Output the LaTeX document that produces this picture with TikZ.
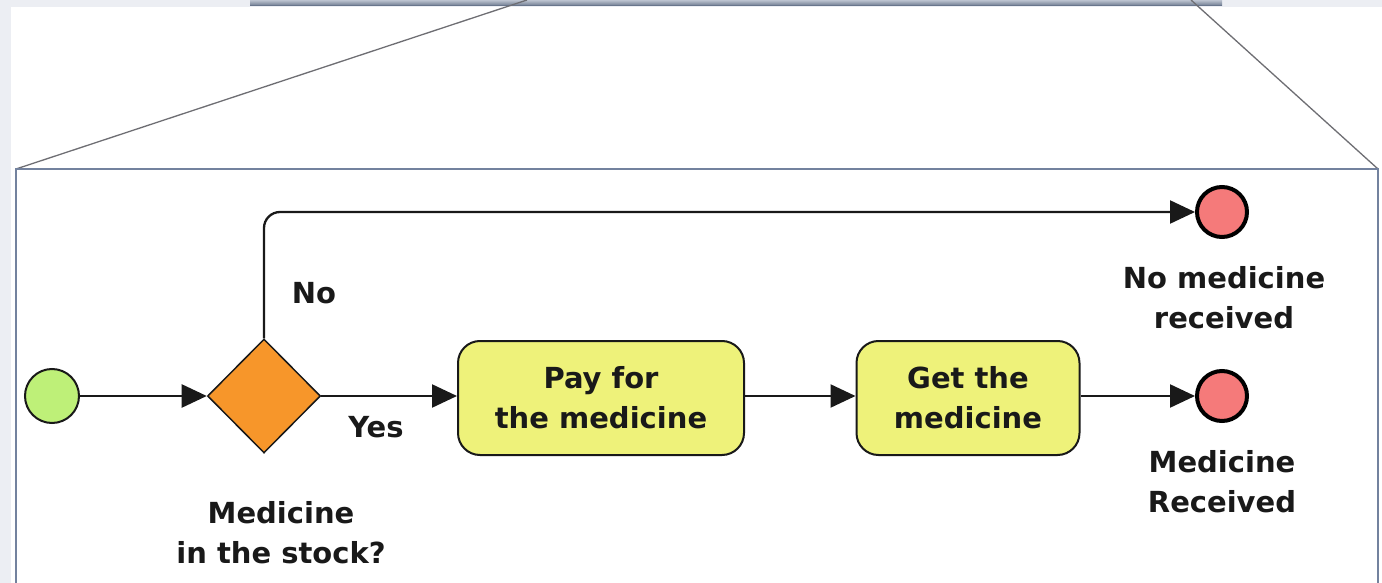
\documentclass[tikz,border=0pt]{standalone}
\usepackage{fontspec}
\setmainfont{DejaVu Sans}
\usetikzlibrary{arrows.meta,shapes.geometric}
\definecolor{bggrey}{RGB}{236,238,243}
\definecolor{framec}{RGB}{115,130,158}
\definecolor{zoomline}{RGB}{110,110,115}
\definecolor{barc}{RGB}{160,170,188}
\definecolor{bardark}{RGB}{105,118,140}
\definecolor{startc}{RGB}{190,240,120}
\definecolor{gatec}{RGB}{247,150,42}
\definecolor{taskc}{RGB}{238,242,122}
\definecolor{endc}{RGB}{245,122,122}
\definecolor{inkc}{RGB}{25,25,25}
\tikzset{
  x=1pt, y=-1pt,
  lbl/.style={font=\fontsize{29}{40}\selectfont\bfseries, text=inkc, align=center, inner sep=0pt},
  startev/.style={circle, draw=inkc, line width=2pt, fill=startc, minimum size=54pt, inner sep=0pt},
  endev/.style={circle, draw=black, line width=4pt, fill=endc, minimum size=50pt, inner sep=0pt},
  gate/.style={diamond, draw=inkc, line width=1.5pt, fill=gatec, minimum width=113pt, minimum height=114pt, inner sep=0pt},
  task/.style={rectangle, rounded corners=22pt, draw=inkc, line width=2pt, fill=taskc, minimum width=286pt, minimum height=114pt, lbl},
  flow/.style={draw=inkc, line width=2.3pt, -{Triangle[length=25pt,width=23pt]}},
}
\begin{document}
\begin{tikzpicture}
\useasboundingbox (0,0) rectangle (1382,583);
% background
\fill[bggrey] (0,0) rectangle (1382,583);
\fill[white] (11,7) rectangle (1382,583);
% top bar (part of the zoomed-out view)
\shade[top color=barc!70!white, bottom color=bardark] (250,0) rectangle (1222,6);
\draw[bardark, line width=1pt] (250,6) -- (1222,6);
% zoom lines
\coordinate (zl1) at (527,0);
\coordinate (zl2) at (1191,0);
\coordinate (bl) at (16,169);
\coordinate (br) at (1378,169);
\draw[zoomline, line width=1.3pt] (zl1) -- (bl);
\draw[zoomline, line width=1.3pt] (zl2) -- (br);
% frame
\draw[framec, line width=2pt] (1378,600) -- (br) -- (bl) -- (16,600);
% nodes
\node[startev] (s) at (52,396) {};
\node[gate] (g) at (264,396) {};
\node[task, minimum width=286pt] (t1) at (601,398) {Pay for\\the medicine};
\node[task, minimum width=223pt] (t2) at (968,398) {Get the\\medicine};
\node[endev] (e1) at (1222,212) {};
\node[endev] (e2) at (1222,396) {};
% labels
\node[lbl] (lg) at (281,533) {Medicine\\in the stock?};
\node[lbl] (le1) at (1224,298) {No medicine\\received};
\node[lbl] (le2) at (1222,482) {Medicine\\Received};
\node[lbl] (lno) at (314,293) {No};
\node[lbl] (lyes) at (376,427) {Yes};
% flows
\draw[flow] (s) -- (g);
\draw[flow] (g.east) -- (g.east -| t1.west);
\draw[flow] (t1.east |- 0,396) -- (t2.west |- 0,396);
\draw[flow] (t2.east |- 0,396) -- (e2);
\draw[flow, rounded corners=16pt] (g.north) -- (264,212) -- (e1);
\end{tikzpicture}
\end{document}
